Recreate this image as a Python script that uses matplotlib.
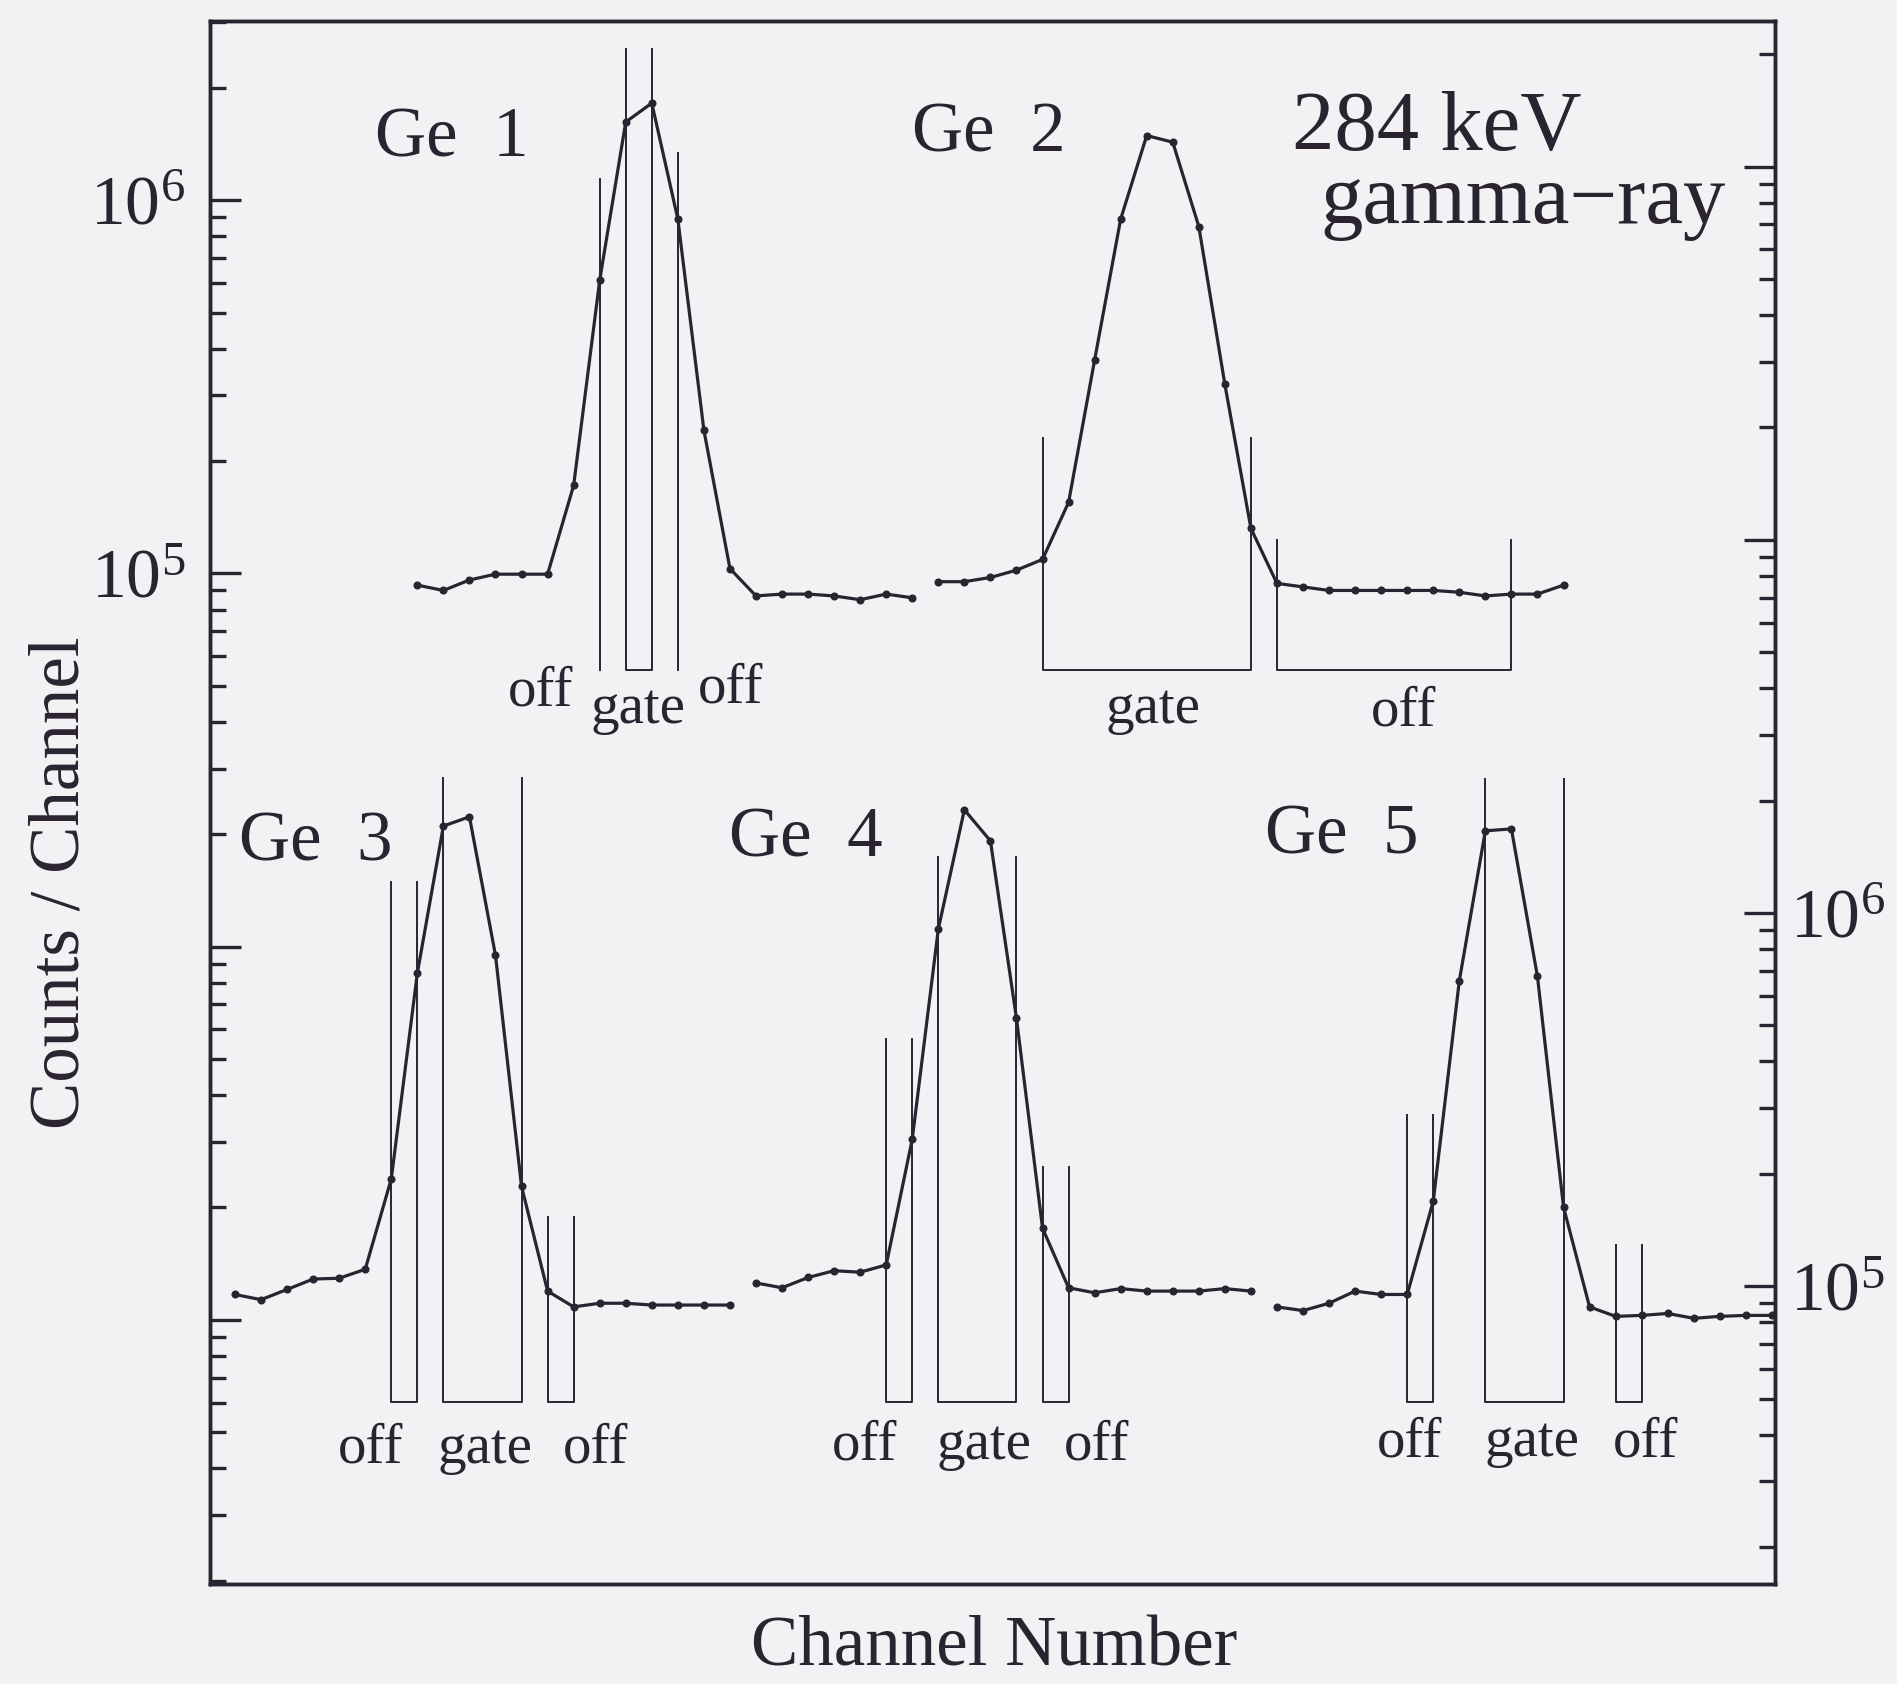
import numpy as np
import matplotlib
matplotlib.use("Agg")
import matplotlib.pyplot as plt
from matplotlib.ticker import LogLocator, FuncFormatter, NullFormatter

plt.rcParams["font.family"] = ["Liberation Serif", "DejaVu Serif"]

# ---- spectra: channel index and counts per channel -------------------------
# upper row (left-hand scale)
ge1_ch = np.arange(8, 28)
ge1_counts = [9.3e4, 9.0e4, 9.6e4, 9.95e4, 9.95e4, 9.95e4, 1.72e5, 6.1e5,
              1.62e6, 1.82e6, 8.9e5, 2.42e5, 1.03e5, 8.7e4, 8.8e4, 8.8e4,
              8.7e4, 8.5e4, 8.8e4, 8.6e4]
ge2_ch = np.arange(28, 53)
ge2_counts = [9.5e4, 9.5e4, 9.75e4, 1.02e5, 1.09e5, 1.55e5, 3.73e5, 8.9e5,
              1.49e6, 1.43e6, 8.5e5, 3.21e5, 1.32e5, 9.4e4, 9.2e4, 9.0e4,
              9.0e4, 9.0e4, 9.0e4, 9.0e4, 8.9e4, 8.7e4, 8.8e4, 8.8e4, 9.3e4]

# lower row (right-hand scale)
ge3_ch = np.arange(1, 21)
ge3_counts = [9.5e4, 9.2e4, 9.8e4, 1.045e5, 1.05e5, 1.11e5, 1.94e5, 6.9e5,
              1.71e6, 1.81e6, 7.7e5, 1.85e5, 9.7e4, 8.8e4, 9.0e4, 9.0e4,
              8.9e4, 8.9e4, 8.9e4, 8.9e4]
ge4_ch = np.arange(21, 41)
ge4_counts = [1.02e5, 9.9e4, 1.055e5, 1.10e5, 1.09e5, 1.14e5, 2.48e5, 9.06e5,
              1.89e6, 1.56e6, 5.22e5, 1.43e5, 9.9e4, 9.6e4, 9.85e4, 9.7e4,
              9.7e4, 9.7e4, 9.85e4, 9.7e4]
ge5_ch = np.arange(41, 61)
ge5_counts = [8.8e4, 8.6e4, 9.0e4, 9.7e4, 9.5e4, 9.5e4, 1.69e5, 6.58e5,
              1.66e6, 1.68e6, 6.76e5, 1.63e5, 8.8e4, 8.3e4, 8.35e4, 8.45e4,
              8.2e4, 8.3e4, 8.35e4, 8.35e4]

# ---- gate / off windows: (first channel, last channel, marker height) ------
upper_floor = 5.5e4
ge1_gate = (16, 17, 2.54e6)
ge1_off_edges = [(15, 1.14e6), (18, 1.34e6)]
ge2_windows = [(32, 40, 2.30e5), (41, 50, 1.23e5)]

lower_floor = 4.9e4
ge3_windows = [(7, 8, 1.21e6), (9, 12, 2.30e6), (13, 14, 1.53e5)]
ge4_windows = [(26, 27, 4.59e5), (28, 31, 1.41e6), (32, 33, 2.08e5)]
ge5_windows = [(46, 47, 2.88e5), (49, 52, 2.29e6), (54, 55, 1.29e5)]

# ---- axis ranges ------------------------------------------------------------
x_range = (0.04, 60.12)
left_range = (10 ** 2.292, 10 ** 6.480)
right_range = (10 ** 4.202, 10 ** 8.390)
labelled_decades = (5, 6)

ink = "#2a2430"
paper = "#f2f2f4"

fig = plt.figure(figsize=(18.97, 16.84), dpi=100, facecolor=paper)
ax = fig.add_axes([0.1107, 0.0594, 0.8250, 0.9281], facecolor=paper)
ax2 = ax.twinx()

line_kw = dict(color=ink, lw=2.3, marker="o", ms=4.8, mfc=ink, mec=ink,
               solid_joinstyle="round")
win_kw = dict(color=ink, lw=1.4)


def draw_window(axis, lo, hi, top, floor):
    axis.plot([lo, lo, hi, hi], [top, floor, floor, top], **win_kw)


# upper row
ax.plot(ge1_ch, ge1_counts, **line_kw)
ax.plot(ge2_ch, ge2_counts, **line_kw)
draw_window(ax, *ge1_gate, upper_floor)
for ch, top in ge1_off_edges:
    ax.plot([ch, ch], [upper_floor, top], **win_kw)
for w in ge2_windows:
    draw_window(ax, *w, upper_floor)

# lower row
for chs, cts, wins in [(ge3_ch, ge3_counts, ge3_windows),
                       (ge4_ch, ge4_counts, ge4_windows),
                       (ge5_ch, ge5_counts, ge5_windows)]:
    ax2.plot(chs, cts, **line_kw)
    for w in wins:
        draw_window(ax2, *w, lower_floor)

# ---- scales and ticks ---------------------------------------------------------
def decade_label(v, pos):
    d = int(round(np.log10(v)))
    return r"$\mathregular{10^{%d}}$" % d if d in labelled_decades else ""


for a, rng in ((ax, left_range), (ax2, right_range)):
    a.set_yscale("log")
    a.set_ylim(*rng)
    a.set_xlim(*x_range)
    a.yaxis.set_major_locator(LogLocator(base=10, numticks=30))
    a.yaxis.set_minor_locator(LogLocator(base=10, subs=np.arange(2, 10), numticks=30))
    a.yaxis.set_major_formatter(FuncFormatter(decade_label))
    a.yaxis.set_minor_formatter(NullFormatter())
    for s in a.spines.values():
        s.set_linewidth(2.5)
        s.set_color(ink)

ax.set_xticks([])
ax.tick_params(axis="y", which="major", direction="in", length=22, width=2.4,
               color=ink, labelcolor=ink, labelsize=50, pad=18,
               left=True, right=False, labelleft=True, labelright=False)
ax.tick_params(axis="y", which="minor", direction="in", length=11.5, width=2.4,
               color=ink, left=True, right=False)
ax2.tick_params(axis="y", which="major", direction="in", length=22, width=2.4,
                color=ink, labelcolor=ink, labelsize=50, pad=11,
                left=False, right=True, labelleft=False, labelright=True)
ax2.tick_params(axis="y", which="minor", direction="in", length=11.5, width=2.4,
                color=ink, left=False, right=True)

# ---- annotations --------------------------------------------------------------
txt = dict(transform=ax.transAxes, color=ink, ha="left", va="baseline")
ax.text(0.1054, 0.9136, "Ge  1", fontsize=51, **txt)
ax.text(0.4487, 0.9163, "Ge  2", fontsize=51, **txt)
ax.text(0.6911, 0.9178, "284 keV", fontsize=61, **txt)
ax.text(0.7092, 0.8706, "gamma\u2212ray", fontsize=61, **txt)
ax.text(0.0184, 0.4632, "Ge  3", fontsize=51, **txt)
ax.text(0.3319, 0.4655, "Ge  4", fontsize=51, **txt)
ax.text(0.6742, 0.4673, "Ge  5", fontsize=51, **txt)

window_labels = [
    (0.1905, 0.5622, "off"), (0.2430, 0.5506, "gate"), (0.3118, 0.5638, "off"),
    (0.5724, 0.5506, "gate"), (0.7417, 0.5490, "off"),
    (0.0816, 0.0777, "off"), (0.1456, 0.0777, "gate"), (0.2254, 0.0777, "off"),
    (0.3971, 0.0799, "off"), (0.4641, 0.0799, "gate"), (0.5459, 0.0799, "off"),
    (0.7458, 0.0818, "off"), (0.8142, 0.0818, "gate"), (0.8964, 0.0818, "off"),
]
for x, y, s in window_labels:
    ax.text(x, y, s, fontsize=41, **txt)

fig.text(0.0319, 0.4756, "Counts / Channel", rotation=90, fontsize=51,
         color=ink, ha="center", va="center")
fig.text(0.5242, 0.0215, "Channel Number", fontsize=51, color=ink,
         ha="center", va="center")

fig.savefig("out.png", dpi=100, facecolor=paper)
